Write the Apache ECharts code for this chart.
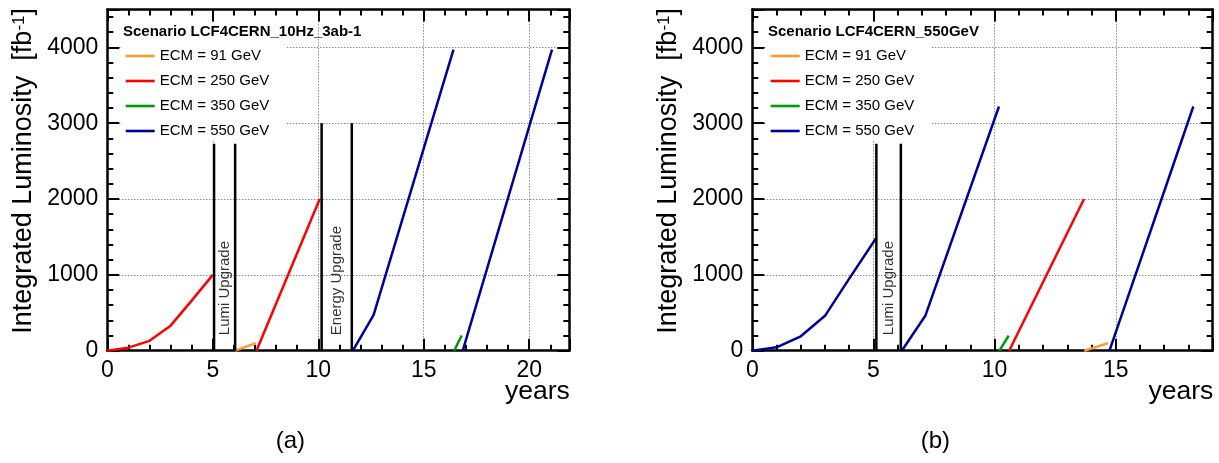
<!DOCTYPE html>
<html><head><meta charset="utf-8">
<script src="https://cdn.jsdelivr.net/npm/echarts@6/dist/echarts.min.js"></script>
<style>html,body{margin:0;padding:0;background:#fff}#c{width:1219px;height:463px}</style>
</head><body><div id="c"></div>
<script>
// ---- data ----
const ecmNames = ['ECM = 91 GeV', 'ECM = 250 GeV', 'ECM = 350 GeV', 'ECM = 550 GeV'];
const ecmColors = ['#ff9933', '#ff0000', '#009900', '#000099'];

// panel (a): Scenario LCF4CERN_10Hz_3ab-1  (segments of [year, fb^-1])
const a_ecm91  = [[[6.06, 0], [7.04, 100]]];
const a_ecm250 = [[[0, 0], [1, 40], [2, 130], [3, 330], [4, 660], [5, 1000]],
                  [[7.07, 0], [10.07, 2000]]];
const a_ecm350 = [[[16.44, 0], [16.8, 200]]];
const a_ecm550 = [[[11.64, 0], [12.62, 470], [16.41, 3970]],
                  [[16.85, 0], [21.08, 3970]]];
const a_upgradeNames = ['Lumi Upgrade', 'Energy Upgrade'];
const a_upgradeFrom  = [5.06, 10.16];
const a_upgradeTo    = [6.06, 11.59];
const a_upgradeTop   = [2730, 3000];

// panel (b): Scenario LCF4CERN_550GeV
const b_ecm91  = [[[13.7, 0], [14.68, 100]]];
const b_ecm250 = [[[10.6, 0], [13.69, 2000]]];
const b_ecm350 = [[[10.2, 0], [10.58, 200]]];
const b_ecm550 = [[[0, 0], [1, 45], [2, 190], [3, 460], [4, 950], [5.1, 1480]],
                  [[6.17, 0], [7.14, 460], [10.18, 3220]],
                  [[14.74, 0], [18.2, 3220]]];
const b_upgradeNames = ['Lumi Upgrade'];
const b_upgradeFrom  = [5.12];
const b_upgradeTo    = [6.13];
const b_upgradeTop   = [2730];

const scenarioNames = ['Scenario LCF4CERN_10Hz_3ab-1', 'Scenario LCF4CERN_550GeV'];
const panelTags = ['(a)', '(b)'];
const xMax = [21.9, 19];
const yMax = 4500;
const xTickLabels = [[0, 5, 10, 15, 20], [0, 5, 10, 15]];
const yTickLabels = [0, 1000, 2000, 3000, 4000];

// ---- layout / style ----
const FONT = '"Liberation Sans", Arial, Helvetica, sans-serif';
const gridPos = [
  {left: 107.3, top: 9.4, width: 462, height: 341.3},
  {left: 752.3, top: 9.4, width: 460.4, height: 341.3}
];
const frame = {show: true, onZero: false, lineStyle: {color: '#000', width: 2.5}};
const noLine = {show: false, onZero: false};
const tickMajor = {show: true, inside: true, length: 12, lineStyle: {color: '#000', width: 2}};
const tickMinor = {show: true, inside: true, length: 6, lineStyle: {color: '#000', width: 2}};
const gridLine = {show: true, showMinLine: false, showMaxLine: false,
  lineStyle: {color: '#555', width: 1, type: [1, 2]}};

const xAxes = [], yAxes = [];
gridPos.forEach((g, gi) => {
  const xb = {type: 'value', gridIndex: gi, min: 0, max: xMax[gi]};
  xAxes.push(Object.assign({}, xb, {position: 'bottom', interval: 5, axisLine: frame, axisTick: tickMajor,
    splitLine: gridLine,
    axisLabel: {show: true, margin: 8, fontSize: 23, color: '#000', fontFamily: FONT,
      formatter: v => xTickLabels[gi].includes(v) ? String(v) : ''}}));
  xAxes.push(Object.assign({}, xb, {position: 'bottom', interval: 1, axisLine: noLine, axisTick: tickMinor,
    splitLine: {show: false}, axisLabel: {show: false}}));
  xAxes.push(Object.assign({}, xb, {position: 'top', interval: 5, axisLine: frame, axisTick: tickMajor,
    splitLine: {show: false}, axisLabel: {show: false}}));
  xAxes.push(Object.assign({}, xb, {position: 'top', interval: 1, axisLine: noLine, axisTick: tickMinor,
    splitLine: {show: false}, axisLabel: {show: false}}));
  const yb = {type: 'value', gridIndex: gi, min: 0, max: yMax};
  yAxes.push(Object.assign({}, yb, {position: 'left', interval: 1000, axisLine: frame, axisTick: tickMajor,
    splitLine: gridLine,
    axisLabel: {show: true, margin: 9, fontSize: 23, color: '#000', fontFamily: FONT,
      formatter: v => yTickLabels.includes(v) ? String(v) : ''}}));
  yAxes.push(Object.assign({}, yb, {position: 'left', interval: 200, axisLine: noLine, axisTick: tickMinor,
    splitLine: {show: false}, axisLabel: {show: false}}));
  yAxes.push(Object.assign({}, yb, {position: 'right', interval: 1000, axisLine: frame, axisTick: tickMajor,
    splitLine: {show: false}, axisLabel: {show: false}}));
  yAxes.push(Object.assign({}, yb, {position: 'right', interval: 200, axisLine: noLine, axisTick: tickMinor,
    splitLine: {show: false}, axisLabel: {show: false}}));
});

const series = [];
function addLines(gi, name, color, segments) {
  segments.forEach(seg => series.push({
    type: 'line', name, xAxisIndex: gi * 4, yAxisIndex: gi * 4, data: seg,
    symbol: 'none', showSymbol: false, color: color,
    lineStyle: {color, width: 2.5}, itemStyle: {color}, z: 3, animation: false
  }));
}
function addUpgrades(gi, names, from, to, top) {
  names.forEach((nm, i) => {
    [from[i], to[i]].forEach(x => series.push({
      type: 'line', name: nm + ' edge', xAxisIndex: gi * 4, yAxisIndex: gi * 4,
      data: [[x, 0], [x, top[i]]], symbol: 'none', lineStyle: {color: '#000', width: 2.5},
      itemStyle: {color: '#000'}, z: 3, animation: false, silent: true
    }));
    series.push({
      type: 'scatter', name: nm, xAxisIndex: gi * 4, yAxisIndex: gi * 4,
      data: [[(from[i] + to[i]) / 2, 0]], symbolSize: 1, itemStyle: {color: 'rgba(0,0,0,0)'},
      silent: true, animation: false, z: 4,
      label: {show: true, formatter: nm, position: 'top', distance: 15, rotate: 90,
        align: 'left', verticalAlign: 'middle', fontSize: 15, color: '#000', fontFamily: FONT}
    });
  });
}
[[a_ecm91, a_ecm250, a_ecm350, a_ecm550], [b_ecm91, b_ecm250, b_ecm350, b_ecm550]].forEach((sets, gi) => {
  sets.forEach((segs, k) => addLines(gi, ecmNames[k], ecmColors[k], segs));
});
addUpgrades(0, a_upgradeNames, a_upgradeFrom, a_upgradeTo, a_upgradeTop);
addUpgrades(1, b_upgradeNames, b_upgradeFrom, b_upgradeTo, b_upgradeTop);

const legends = gridPos.map(g => ({
  show: true, data: ecmNames, orient: 'vertical', left: g.left + 18.4, top: 48.5, padding: 0,
  itemGap: 10, itemWidth: 29, itemHeight: 2.6, icon: 'rect', selectedMode: false,
  textStyle: {fontSize: 15, color: '#000', fontFamily: FONT, lineHeight: 15}
}));
const titles = gridPos.map((g, gi) => ({
  text: scenarioNames[gi], left: g.left + 15.7, top: 24.5, padding: 0,
  textStyle: {fontSize: 15, fontWeight: 'bold', color: '#000', fontFamily: FONT, lineHeight: 15}
}));

const graphics = [];
gridPos.forEach((g, gi) => {
  const off = g.left;
  // legend background (hides grid lines behind the legend)
  graphics.push({type: 'rect', z: 1, shape: {x: off + 13.7, y: 22, width: 166, height: 119},
    style: {fill: '#fff'}, silent: true});
  // y-axis title
  graphics.push({type: 'text', z: 5, x: off - 83.3, y: 8, rotation: Math.PI / 2,
    style: {text: 'Integrated Luminosity  [fb{s|-1}]', font: '27px ' + FONT, fill: '#000',
      align: 'right', verticalAlign: 'middle', textAlign: 'right', textVerticalAlign: 'middle',
      rich: {s: {fontSize: 17, fontFamily: FONT, verticalAlign: 'top', fill: '#000'}}}});
  // x-axis title
  graphics.push({type: 'text', z: 5, x: off + g.width + 0.5, y: 392,
    style: {text: 'years', font: '26.5px ' + FONT, fill: '#000',
      align: 'right', verticalAlign: 'middle', textAlign: 'right', textVerticalAlign: 'middle'}});
  // panel tag
  graphics.push({type: 'text', z: 5, x: off + 183, y: 441,
    style: {text: panelTags[gi], font: '24px ' + FONT, fill: '#000',
      align: 'center', verticalAlign: 'middle', textAlign: 'center', textVerticalAlign: 'middle'}});
});

const chart = echarts.init(document.getElementById('c'), null, {renderer: 'canvas'});
chart.setOption({
  animation: false,
  backgroundColor: '#fff',
  title: titles,
  legend: legends,
  grid: gridPos.map(g => Object.assign({containLabel: false}, g)),
  xAxis: xAxes,
  yAxis: yAxes,
  series: series,
  graphic: {elements: graphics}
});
</script></body></html>
